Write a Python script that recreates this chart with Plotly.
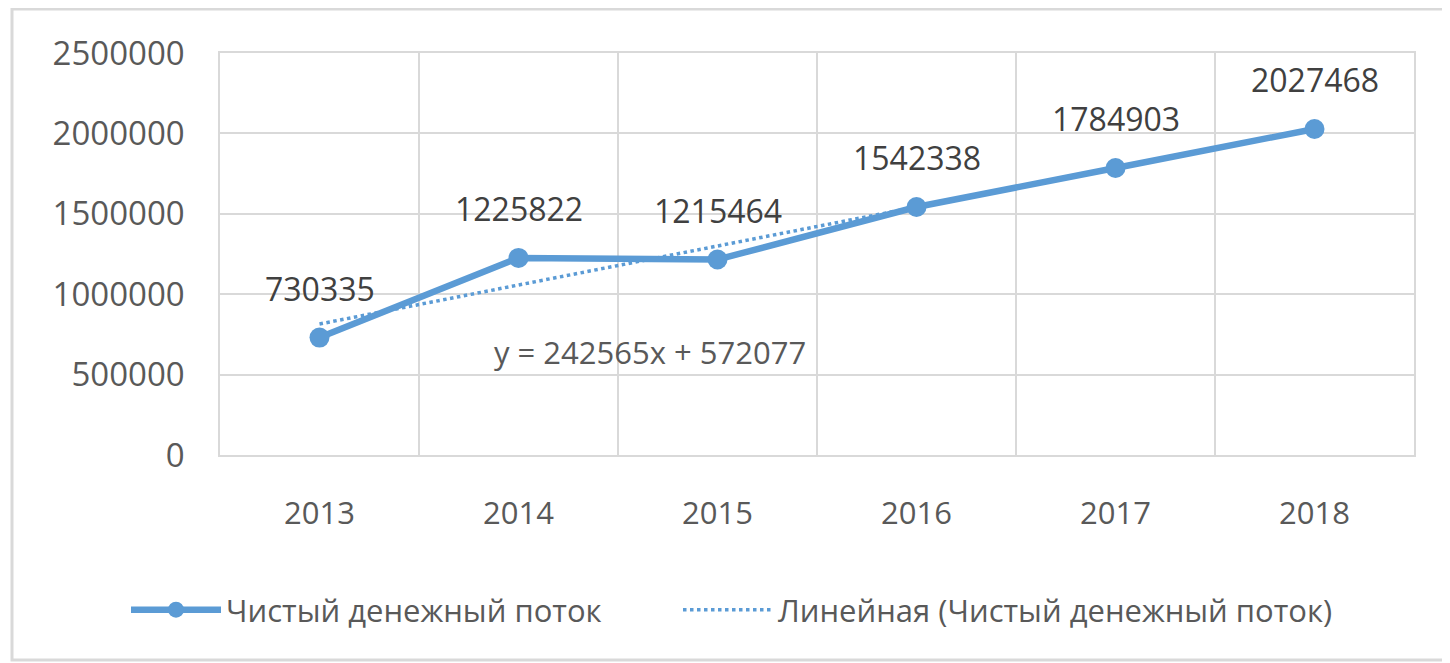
import plotly.graph_objects as go
import numpy as np

years = ["2013", "2014", "2015", "2016", "2017", "2018"]
net_cash_flow = [730335, 1225822, 1215464, 1542338, 1784903, 2027468]
series_name = "Чистый денежный поток"
trend_name = "Линейная (Чистый денежный поток)"
y_ticks = [0, 500000, 1000000, 1500000, 2000000, 2500000]

# linear trendline fitted to the series (x = 1..n, as in Excel)
xs = np.arange(1, len(years) + 1)
slope, intercept = np.polyfit(xs, net_cash_flow, 1)
trend_vals = list(slope * xs + intercept)
equation = f"y = {slope:.0f}x + {intercept:.0f}"

blue = "#5B9BD5"
grey_text = "#595959"
grid = "#D9D9D9"
font_family = "Open Sans, Noto Sans, sans-serif"

# figure geometry (page body has an 8px margin)
L, R, T, B = 212, 44, 45, 216
PW, PH = 1450 - L - R, 663 - T - B

fig = go.Figure()
fig.add_trace(go.Scatter(
    x=years, y=trend_vals, name=trend_name, mode="lines",
    line=dict(color=blue, width=3.5, dash="dot"),
))
fig.add_trace(go.Scatter(
    x=years, y=net_cash_flow, name=series_name, mode="lines+markers",
    line=dict(color=blue, width=6.5), marker=dict(color=blue, size=20),
    legendwidth=447,
))

for i, v in enumerate(net_cash_flow):
    fig.add_annotation(x=i, y=v, xref="x", yref="y", text=str(v), showarrow=False,
                       yshift=49, font=dict(size=32, color="#404040", family=font_family))

fig.add_annotation(x=1.66, y=640000, xref="x", yref="y", text=equation,
                   showarrow=False, font=dict(size=31, color=grey_text, family=font_family))

fig.add_shape(type="rect", xref="paper", yref="paper",
              x0=(4 - L) / PW, x1=(1460 - L) / PW,
              y0=(T + PH - 652) / PH, y1=(T + PH - 1) / PH,
              line=dict(color="#D9D9D9", width=3), layer="below")

fig.update_layout(
    width=1450, height=663,
    margin=dict(l=L, r=R, t=T, b=B),
    paper_bgcolor="white", plot_bgcolor="white",
    font=dict(family=font_family, color=grey_text),
    showlegend=True,
    legend=dict(orientation="h", x=(126 - 8 - L) / PW, xanchor="left",
                y=(T + PH - 602) / PH, yanchor="middle",
                font=dict(size=31, color=grey_text, family=font_family),
                traceorder="reversed", itemwidth=90),
    xaxis=dict(type="category", range=[-0.5, 5.5], tickson="boundaries",
               showgrid=True, gridcolor=grid, gridwidth=1.5,
               showline=True, linecolor=grid, linewidth=1.5, mirror=True,
               ticks="", tickfont=dict(size=31, color=grey_text), ticklabelstandoff=30),
    yaxis=dict(range=[0, 2500000], tickvals=y_ticks, ticktext=[str(v) for v in y_ticks],
               showgrid=True, gridcolor=grid, gridwidth=1.5,
               showline=True, linecolor=grid, linewidth=1.5, mirror=True,
               zeroline=False, ticks="", tickfont=dict(size=33, color=grey_text),
               ticklabelstandoff=27),
)

fig.write_html("out.html")
